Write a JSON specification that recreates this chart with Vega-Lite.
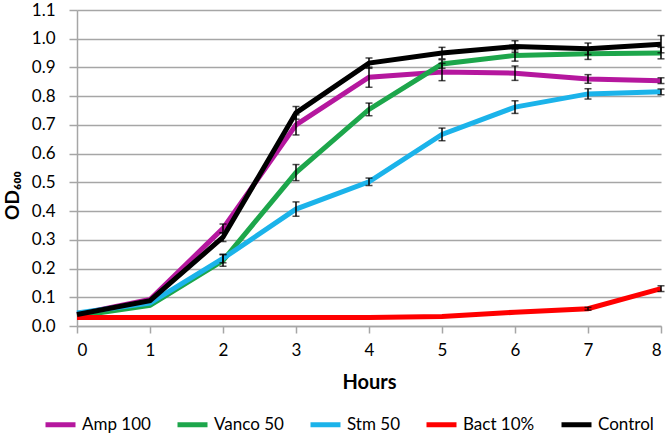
{
  "$schema": "https://vega.github.io/schema/vega-lite/v6.json",
  "autosize": "none",
  "width": 584,
  "height": 316,
  "padding": {"left": 77, "top": 10, "right": 5, "bottom": 110},
  "background": "white",
  "config": {
    "font": "Lato",
    "view": {"stroke": null},
    "axis": {"labelFont": "Lato", "titleFont": "Lato", "labelColor": "#000000", "titleColor": "#000000"}
  },
  "data": {
    "values": [
      {"hour": 0, "series": "Amp 100", "od": 0.040, "err": 0},
      {"hour": 1, "series": "Amp 100", "od": 0.092, "err": 0},
      {"hour": 2, "series": "Amp 100", "od": 0.340, "err": 0.015},
      {"hour": 3, "series": "Amp 100", "od": 0.700, "err": 0.035},
      {"hour": 4, "series": "Amp 100", "od": 0.866, "err": 0.035},
      {"hour": 5, "series": "Amp 100", "od": 0.884, "err": 0.03},
      {"hour": 6, "series": "Amp 100", "od": 0.880, "err": 0.025},
      {"hour": 7, "series": "Amp 100", "od": 0.860, "err": 0.015},
      {"hour": 8, "series": "Amp 100", "od": 0.854, "err": 0.01},
      {"hour": 0, "series": "Vanco 50", "od": 0.035, "err": 0},
      {"hour": 1, "series": "Vanco 50", "od": 0.072, "err": 0},
      {"hour": 2, "series": "Vanco 50", "od": 0.228, "err": 0.02},
      {"hour": 3, "series": "Vanco 50", "od": 0.534, "err": 0.028},
      {"hour": 4, "series": "Vanco 50", "od": 0.754, "err": 0.022},
      {"hour": 5, "series": "Vanco 50", "od": 0.912, "err": 0.015},
      {"hour": 6, "series": "Vanco 50", "od": 0.942, "err": 0.02},
      {"hour": 7, "series": "Vanco 50", "od": 0.948, "err": 0.02},
      {"hour": 8, "series": "Vanco 50", "od": 0.950, "err": 0.02},
      {"hour": 0, "series": "Stm 50", "od": 0.045, "err": 0},
      {"hour": 1, "series": "Stm 50", "od": 0.080, "err": 0},
      {"hour": 2, "series": "Stm 50", "od": 0.235, "err": 0.015},
      {"hour": 3, "series": "Stm 50", "od": 0.407, "err": 0.025},
      {"hour": 4, "series": "Stm 50", "od": 0.502, "err": 0.013},
      {"hour": 5, "series": "Stm 50", "od": 0.667, "err": 0.022},
      {"hour": 6, "series": "Stm 50", "od": 0.762, "err": 0.022},
      {"hour": 7, "series": "Stm 50", "od": 0.808, "err": 0.018},
      {"hour": 8, "series": "Stm 50", "od": 0.815, "err": 0.01},
      {"hour": 0, "series": "Bact 10%", "od": 0.030, "err": 0},
      {"hour": 1, "series": "Bact 10%", "od": 0.030, "err": 0},
      {"hour": 2, "series": "Bact 10%", "od": 0.030, "err": 0},
      {"hour": 3, "series": "Bact 10%", "od": 0.030, "err": 0},
      {"hour": 4, "series": "Bact 10%", "od": 0.030, "err": 0},
      {"hour": 5, "series": "Bact 10%", "od": 0.033, "err": 0},
      {"hour": 6, "series": "Bact 10%", "od": 0.048, "err": 0},
      {"hour": 7, "series": "Bact 10%", "od": 0.060, "err": 0.005},
      {"hour": 8, "series": "Bact 10%", "od": 0.130, "err": 0.01},
      {"hour": 0, "series": "Control", "od": 0.040, "err": 0},
      {"hour": 1, "series": "Control", "od": 0.088, "err": 0},
      {"hour": 2, "series": "Control", "od": 0.309, "err": 0.015},
      {"hour": 3, "series": "Control", "od": 0.742, "err": 0.022},
      {"hour": 4, "series": "Control", "od": 0.915, "err": 0.018},
      {"hour": 5, "series": "Control", "od": 0.950, "err": 0.02},
      {"hour": 6, "series": "Control", "od": 0.973, "err": 0.02},
      {"hour": 7, "series": "Control", "od": 0.965, "err": 0.02},
      {"hour": 8, "series": "Control", "od": 0.981, "err": 0.03}
    ]
  },
  "encoding": {
    "x": {
      "field": "hour", "type": "quantitative",
      "scale": {"domain": [0, 8], "nice": false, "zero": false},
      "axis": {
        "title": "Hours", "titleFontSize": 20, "titleFontWeight": "bold",
        "titleY": 56, "titleBaseline": "middle",
        "values": [0, 1, 2, 3, 4, 5, 6, 7, 8], "format": "d",
        "labelFontSize": 17, "labelPadding": 9, "labelOverlap": false,
        "grid": false, "domainColor": "#a6a6a6", "domainWidth": 1.5,
        "tickColor": "#a6a6a6", "tickWidth": 1.5, "tickSize": 7
      }
    },
    "y": {
      "field": "od", "type": "quantitative",
      "scale": {"domain": [0, 1.1], "nice": false},
      "axis": {
        "title": "OD₆₀₀", "titleFontSize": 19, "titleFontWeight": "bold",
        "titleAngle": -90, "titleX": -65, "titleY": 185, "titleAlign": "center", "titleBaseline": "middle",
        "values": [0, 0.1, 0.2, 0.3, 0.4, 0.5, 0.6, 0.7, 0.8, 0.9, 1.0, 1.1], "format": ".1f",
        "labelFontSize": 17, "labelPadding": 14, "labelOverlap": false,
        "grid": true, "gridColor": "#a6a6a6", "gridWidth": 1.5,
        "domainColor": "#a6a6a6", "domainWidth": 1.5,
        "tickColor": "#a6a6a6", "tickWidth": 1.5, "tickSize": 8
      }
    }
  },
  "layer": [
    {
      "mark": {"type": "line", "strokeWidth": 5, "strokeJoin": "miter"},
      "encoding": {
        "color": {
          "field": "series", "type": "nominal",
          "scale": {
            "domain": ["Amp 100", "Vanco 50", "Stm 50", "Bact 10%", "Control"],
            "range": ["#B5179E", "#1DA64B", "#1BB3EA", "#FF0000", "#000000"]
          },
          "legend": {
            "title": null, "orient": "none", "direction": "horizontal", "columns": 5,
            "legendX": -34, "legendY": 397,
            "symbolType": "stroke", "symbolSize": 900, "symbolStrokeWidth": 5,
            "labelFontSize": 17, "labelOffset": 4, "columnPadding": 16,
            "labelColor": "#000000"
          }
        }
      }
    },
    {
      "transform": [{"filter": "datum.err > 0"}],
      "mark": {
        "type": "errorbar", "color": "#000000",
        "ticks": {"size": 7, "thickness": 1.5, "color": "#000000"},
        "rule": {"strokeWidth": 1.5, "color": "#000000"}
      },
      "encoding": {
        "yError": {"field": "err"}
      }
    }
  ]
}
